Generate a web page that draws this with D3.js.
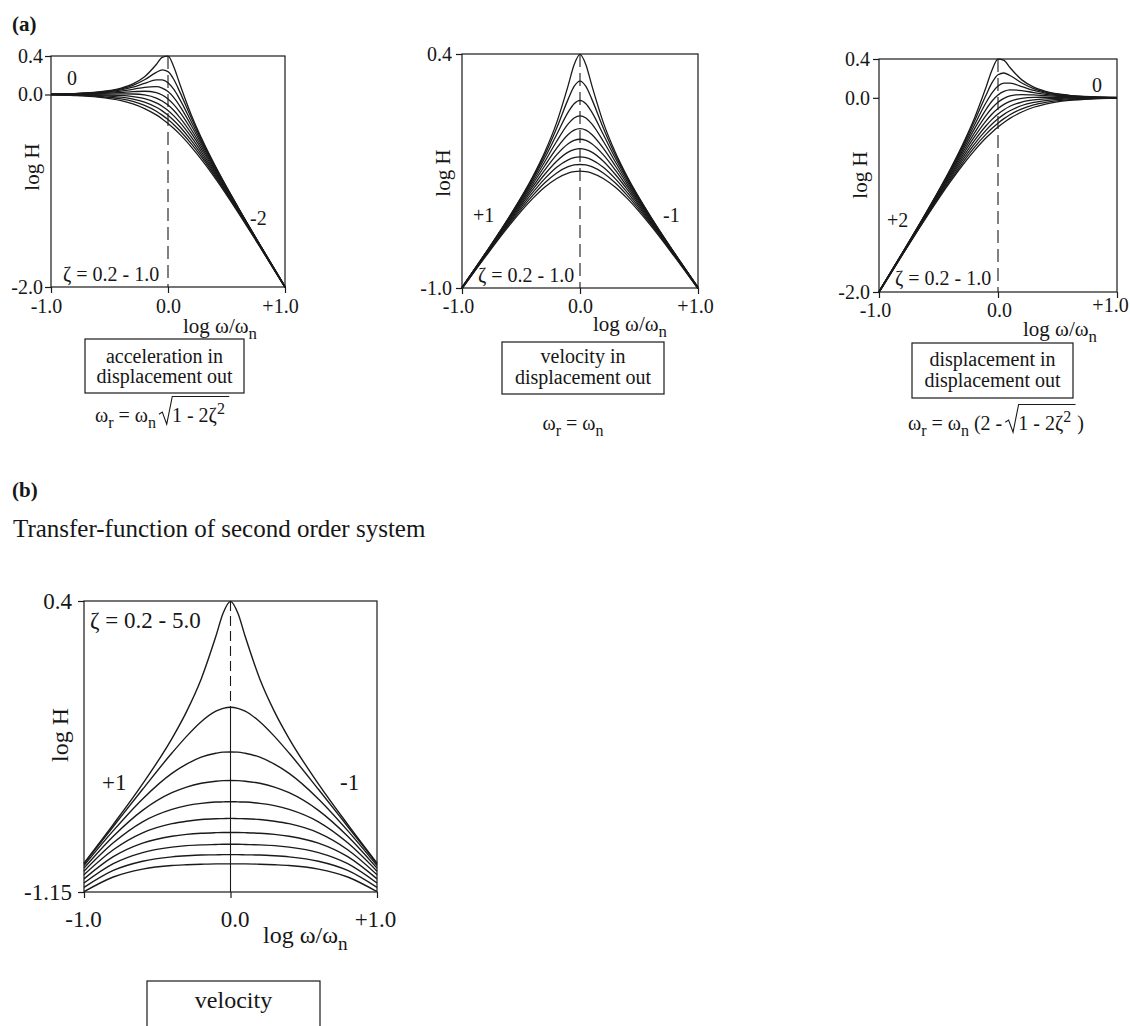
<!DOCTYPE html>
<html lang="en">
<head>
<meta charset="utf-8">
<title>Transfer-function of second order system</title>
<script type="text/javascript" src="https://cdn.jsdelivr.net/npm/d3@7/dist/d3.min.js"></script>
<style type="text/css">
    body { margin: 0; background: #fff; }
    text { font-family: "Liberation Serif", "Times New Roman", serif; fill: #161616; }
</style>
</head>
<body>
<script type="text/javascript">

var logFreq = [-1, -0.8, -0.6, -0.4, -0.3, -0.2, -0.1, -0.05, 0, 0.05, 0.1, 0.2, 0.3, 0.4, 0.6, 0.8, 1];
var xTicks = [-1, 0, 1];
var xTickLabels = ["-1.0", "0.0", "+1.0"];

// damping ratio of each curve, top curve first
var zetaA = [0.2, 0.29, 0.38, 0.47, 0.56, 0.64, 0.73, 0.82, 0.91, 1.0];
var zetaB = [0.2, 0.73, 1.27, 1.8, 2.33, 2.87, 3.4, 3.93, 4.47, 5.0];

// log H : acceleration in, displacement out
var accelIn = [
    [0.004, 0.010, 0.026, 0.067, 0.111, 0.185, 0.312, 0.386, 0.398, 0.286, 0.112, -0.215, -0.489, -0.733, -1.174, -1.590, -1.996],
    [0.004, 0.009, 0.023, 0.059, 0.095, 0.153, 0.230, 0.256, 0.238, 0.156, 0.030, -0.247, -0.505, -0.741, -1.177, -1.591, -1.996],
    [0.003, 0.008, 0.020, 0.049, 0.076, 0.115, 0.152, 0.152, 0.122, 0.052, -0.048, -0.285, -0.524, -0.751, -1.180, -1.592, -1.997],
    [0.002, 0.006, 0.015, 0.036, 0.054, 0.075, 0.082, 0.067, 0.030, -0.033, -0.118, -0.325, -0.546, -0.764, -1.185, -1.594, -1.998],
    [0.002, 0.004, 0.010, 0.022, 0.030, 0.034, 0.019, -0.005, -0.046, -0.105, -0.181, -0.366, -0.570, -0.778, -1.190, -1.596, -1.998],
    [0.001, 0.002, 0.004, 0.006, 0.005, -0.005, -0.037, -0.067, -0.110, -0.167, -0.237, -0.405, -0.595, -0.794, -1.196, -1.598, -1.999],
    [0.000, -0.001, -0.003, -0.010, -0.021, -0.043, -0.087, -0.122, -0.166, -0.222, -0.287, -0.443, -0.621, -0.810, -1.203, -1.601, -2.000],
    [-0.002, -0.004, -0.010, -0.028, -0.047, -0.079, -0.133, -0.170, -0.216, -0.270, -0.333, -0.479, -0.647, -0.828, -1.210, -1.604, -2.002],
    [-0.003, -0.007, -0.018, -0.046, -0.072, -0.113, -0.174, -0.214, -0.261, -0.314, -0.374, -0.513, -0.672, -0.846, -1.218, -1.607, -2.003],
    [-0.004, -0.011, -0.027, -0.064, -0.097, -0.146, -0.212, -0.254, -0.301, -0.354, -0.412, -0.546, -0.697, -0.864, -1.227, -1.611, -2.004]
];

// log H : velocity in, displacement out
var velocIn = [
    [-0.996, -0.790, -0.574, -0.333, -0.189, -0.015, 0.212, 0.336, 0.398, 0.336, 0.212, -0.015, -0.189, -0.333, -0.574, -0.790, -0.996],
    [-0.996, -0.791, -0.577, -0.341, -0.205, -0.047, 0.130, 0.206, 0.238, 0.206, 0.130, -0.047, -0.205, -0.341, -0.577, -0.791, -0.996],
    [-0.997, -0.792, -0.580, -0.351, -0.224, -0.085, 0.052, 0.102, 0.122, 0.102, 0.052, -0.085, -0.224, -0.351, -0.580, -0.792, -0.997],
    [-0.998, -0.794, -0.585, -0.364, -0.246, -0.125, -0.018, 0.017, 0.030, 0.017, -0.018, -0.125, -0.246, -0.364, -0.585, -0.794, -0.998],
    [-0.998, -0.796, -0.590, -0.378, -0.270, -0.166, -0.081, -0.055, -0.046, -0.055, -0.081, -0.166, -0.270, -0.378, -0.590, -0.796, -0.998],
    [-0.999, -0.798, -0.596, -0.394, -0.295, -0.205, -0.137, -0.117, -0.110, -0.117, -0.137, -0.205, -0.295, -0.394, -0.596, -0.798, -0.999],
    [-1.000, -0.801, -0.603, -0.410, -0.321, -0.243, -0.187, -0.172, -0.166, -0.172, -0.187, -0.243, -0.321, -0.410, -0.603, -0.801, -1.000],
    [-1.002, -0.804, -0.610, -0.428, -0.347, -0.279, -0.233, -0.220, -0.216, -0.220, -0.233, -0.279, -0.347, -0.428, -0.610, -0.804, -1.002],
    [-1.003, -0.807, -0.618, -0.446, -0.372, -0.313, -0.274, -0.264, -0.261, -0.264, -0.274, -0.313, -0.372, -0.446, -0.618, -0.807, -1.003],
    [-1.004, -0.811, -0.627, -0.464, -0.397, -0.346, -0.312, -0.304, -0.301, -0.304, -0.312, -0.346, -0.397, -0.464, -0.627, -0.811, -1.004]
];

// log H : displacement in, displacement out
var displIn = [
    [-1.996, -1.590, -1.174, -0.733, -0.489, -0.215, 0.112, 0.286, 0.398, 0.386, 0.312, 0.185, 0.111, 0.067, 0.026, 0.010, 0.004],
    [-1.996, -1.591, -1.177, -0.741, -0.505, -0.247, 0.030, 0.156, 0.238, 0.256, 0.230, 0.153, 0.095, 0.059, 0.023, 0.009, 0.004],
    [-1.997, -1.592, -1.180, -0.751, -0.524, -0.285, -0.048, 0.052, 0.122, 0.152, 0.152, 0.115, 0.076, 0.049, 0.020, 0.008, 0.003],
    [-1.998, -1.594, -1.185, -0.764, -0.546, -0.325, -0.118, -0.033, 0.030, 0.067, 0.082, 0.075, 0.054, 0.036, 0.015, 0.006, 0.002],
    [-1.998, -1.596, -1.190, -0.778, -0.570, -0.366, -0.181, -0.105, -0.046, -0.005, 0.019, 0.034, 0.030, 0.022, 0.010, 0.004, 0.002],
    [-1.999, -1.598, -1.196, -0.794, -0.595, -0.405, -0.237, -0.167, -0.110, -0.067, -0.037, -0.005, 0.005, 0.006, 0.004, 0.002, 0.001],
    [-2.000, -1.601, -1.203, -0.810, -0.621, -0.443, -0.287, -0.222, -0.166, -0.122, -0.087, -0.043, -0.021, -0.010, -0.003, -0.001, 0.000],
    [-2.002, -1.604, -1.210, -0.828, -0.647, -0.479, -0.333, -0.270, -0.216, -0.170, -0.133, -0.079, -0.047, -0.028, -0.010, -0.004, -0.002],
    [-2.003, -1.607, -1.218, -0.846, -0.672, -0.513, -0.374, -0.314, -0.261, -0.214, -0.174, -0.113, -0.072, -0.046, -0.018, -0.007, -0.003],
    [-2.004, -1.611, -1.227, -0.864, -0.697, -0.546, -0.412, -0.354, -0.301, -0.254, -0.212, -0.146, -0.097, -0.064, -0.027, -0.011, -0.004]
];

// log H : velocity, zeta 0.2 - 5.0  (part b)
var velocityB = [
    [-0.996, -0.790, -0.574, -0.333, -0.189, -0.015, 0.212, 0.336, 0.398, 0.336, 0.212, -0.015, -0.189, -0.333, -0.574, -0.790, -0.996],
    [-1.000, -0.801, -0.603, -0.410, -0.321, -0.243, -0.187, -0.172, -0.166, -0.172, -0.187, -0.243, -0.321, -0.410, -0.603, -0.801, -1.000],
    [-1.009, -0.823, -0.654, -0.518, -0.469, -0.432, -0.411, -0.405, -0.404, -0.405, -0.411, -0.432, -0.469, -0.518, -0.654, -0.823, -1.009],
    [-1.023, -0.853, -0.715, -0.621, -0.591, -0.571, -0.560, -0.557, -0.556, -0.557, -0.560, -0.571, -0.591, -0.621, -0.715, -0.853, -1.023],
    [-1.039, -0.888, -0.776, -0.710, -0.690, -0.678, -0.671, -0.670, -0.669, -0.670, -0.671, -0.678, -0.690, -0.710, -0.776, -0.888, -1.039],
    [-1.058, -0.925, -0.835, -0.786, -0.773, -0.764, -0.760, -0.759, -0.758, -0.759, -0.760, -0.764, -0.773, -0.786, -0.835, -0.925, -1.058],
    [-1.080, -0.962, -0.890, -0.853, -0.843, -0.837, -0.834, -0.833, -0.833, -0.833, -0.834, -0.837, -0.843, -0.853, -0.890, -0.962, -1.080],
    [-1.102, -0.999, -0.940, -0.911, -0.903, -0.899, -0.897, -0.896, -0.896, -0.896, -0.897, -0.899, -0.903, -0.911, -0.940, -0.999, -1.102],
    [-1.125, -1.035, -0.986, -0.963, -0.957, -0.953, -0.952, -0.951, -0.951, -0.951, -0.952, -0.953, -0.957, -0.963, -0.986, -1.035, -1.125],
    [-1.148, -1.070, -1.028, -1.009, -1.005, -1.002, -1.000, -1.000, -1.000, -1.000, -1.000, -1.002, -1.005, -1.009, -1.028, -1.070, -1.148]
];

var yTicksAcc = [0.4, 0.0, -2.0], yLabelsAcc = ["0.4", "0.0", "-2.0"];
var yTicksVel = [0.4, -1.0], yLabelsVel = ["0.4", "-1.0"];
var yTicksB = [0.4, -1.15], yLabelsB = ["0.4", "-1.15"];

var ink = "#1a1a1a";
var svg = d3.select("body").append("svg").attr("width", 1130).attr("height", 1026);

function zetaText(z) {
    return "\u03b6 = " + z[0].toFixed(1) + " - " + z[z.length - 1].toFixed(1);
}

// text made of pieces: 0 normal, 1 subscript, 2 superscript
function richText(g, x, y, parts, size, anchor) {
    var t = g.append("text").attr("x", x).attr("y", y)
        .attr("font-size", size).attr("text-anchor", anchor || "start");
    var shift = 0;
    parts.forEach(function(p) {
        var target = p[1] === 1 ? size * 0.3 : (p[1] === 2 ? -size * 0.42 : 0);
        t.append("tspan").attr("dy", target - shift)
            .attr("font-size", p[1] ? size * 0.8 : size).text(p[0]);
        shift = target;
    });
    return t;
}

function radical(g, x, y, w, size) {
    var s = size / 18;
    g.append("path")
        .attr("d", "M" + x + "," + (y - 7 * s) + " l" + 3 * s + "," + (-2 * s) + " l" + 4 * s + "," + 11 * s +
              " l" + 5 * s + "," + (-25 * s) + " h" + (w + 4))
        .attr("fill", "none").attr("stroke", ink).attr("stroke-width", 1.1);
}

function drawPanel(p) {
    var x = d3.scaleLinear().domain([-1, 1]).range([p.left, p.right]);
    var y = d3.scaleLinear().domain([p.yTicks[0], p.yTicks[p.yTicks.length - 1]]).range([p.top, p.bottom]);
    var g = svg.append("g");

    g.append("rect")
        .attr("x", p.left).attr("y", p.top)
        .attr("width", p.right - p.left).attr("height", p.bottom - p.top)
        .attr("fill", "none").attr("stroke", ink).attr("stroke-width", 1.2);

    var yAxis = g.append("g").attr("transform", "translate(" + p.left + ",0)")
        .call(d3.axisLeft(y).tickValues(p.yTicks).tickSize(6).tickPadding(p.yPad)
            .tickFormat(function(d, i) { return p.yLabels[i]; }));
    var xAxis = g.append("g").attr("transform", "translate(0," + p.bottom + ")")
        .call(d3.axisBottom(x).tickValues(xTicks).tickSize(6).tickPadding(p.xPad)
            .tickFormat(function(d, i) { return xTickLabels[i]; }));
    [yAxis, xAxis].forEach(function(a) {
        a.select(".domain").remove();
        a.attr("font-family", null).attr("font-size", p.tickFont);
        a.selectAll("line").attr("stroke", ink).attr("stroke-width", 1.2);
    });
    xAxis.selectAll("text").attr("dx", function(d, i) { return p.xShift[i]; });
    if (p.lastUp) {
        // the "+1.0" of this panel sits higher, next to the axis title
        xAxis.selectAll("text").filter(function(d, i) { return i === 2; })
            .attr("y", p.lastUp).attr("dy", "0");
    }

    // resonance line at log w/wn = 0
    var split = p.solidFrom === undefined ? p.yTicks[p.yTicks.length - 1] : p.solidFrom;
    g.append("line").attr("x1", x(0)).attr("x2", x(0))
        .attr("y1", y(p.yTicks[0])).attr("y2", y(split))
        .attr("stroke", ink).attr("stroke-width", 1.1).attr("stroke-dasharray", p.dash);
    if (p.solidFrom !== undefined) {
        g.append("line").attr("x1", x(0)).attr("x2", x(0))
            .attr("y1", y(split)).attr("y2", p.bottom)
            .attr("stroke", ink).attr("stroke-width", 1.1);
    }

    var line = d3.line()
        .x(function(d, i) { return x(logFreq[i]); })
        .y(function(d) { return y(d); })
        .curve(d3.curveMonotoneX);

    g.selectAll("path.curve")
        .data(p.curves)
        .enter()
        .append("path")
        .attr("class", "curve")
        .attr("d", line)
        .attr("fill", "none")
        .attr("stroke", ink)
        .attr("stroke-width", p.curveWidth);

    p.labels.forEach(function(l) {
        g.append("text").attr("x", l[1]).attr("y", l[2]).attr("font-size", p.labelFont).text(l[0]);
    });

    g.append("text")
        .attr("transform", "translate(" + p.yTitle[0] + "," + p.yTitle[1] + ") rotate(-90)")
        .attr("text-anchor", "middle").attr("dy", "0.35em")
        .attr("font-size", p.titleFont).text("log H");

    richText(g, p.xTitle[0], p.xTitle[1], [["log \u03c9/\u03c9", 0], ["n", 1]], p.titleFont);
}

// ---- part (a) ----
svg.append("text").attr("x", 12).attr("y", 31).attr("font-size", 21).attr("font-weight", "bold").text("(a)");

drawPanel({
    left: 51, right: 285, top: 56, bottom: 287,
    yTicks: yTicksAcc, yLabels: yLabelsAcc, curves: accelIn,
    tickFont: 20, labelFont: 20, titleFont: 21, curveWidth: 1.3,
    yPad: 2, xPad: 6, xShift: [-5, 0, -5],
    dash: "13,6",
    labels: [["0", 67, 85], ["-2", 250, 225], [zetaText(zetaA), 63, 281]],
    yTitle: [32, 167], xTitle: [183, 333]
});

drawPanel({
    left: 462, right: 698, top: 54, bottom: 288,
    yTicks: yTicksVel, yLabels: yLabelsVel, curves: velocIn,
    tickFont: 20, labelFont: 20, titleFont: 21, curveWidth: 1.3,
    yPad: 4, xPad: 5, xShift: [-4, 0, -3],
    dash: "13,6",
    labels: [["+1", 473, 222], ["-1", 663, 222], [zetaText(zetaA), 478, 282]],
    yTitle: [443, 173], xTitle: [593, 331]
});

drawPanel({
    left: 879, right: 1117, top: 59, bottom: 292,
    yTicks: yTicksAcc, yLabels: yLabelsAcc, curves: displIn,
    tickFont: 20, labelFont: 20, titleFont: 21, curveWidth: 1.3,
    yPad: 3, xPad: 5, xShift: [-4, 1, -7], lastUp: 20,
    dash: "13,6",
    labels: [["0", 1092, 92], ["+2", 887, 227], [zetaText(zetaA), 895, 285]],
    yTitle: [860, 175], xTitle: [1023, 336]
});

// boxes under the panels
function captionBox(x0, y0, x1, y1, lines, baselines, size) {
    svg.append("rect").attr("x", x0).attr("y", y0).attr("width", x1 - x0).attr("height", y1 - y0)
        .attr("fill", "none").attr("stroke", ink).attr("stroke-width", 1.2);
    lines.forEach(function(s, i) {
        svg.append("text").attr("x", (x0 + x1) / 2).attr("y", baselines[i])
            .attr("text-anchor", "middle").attr("font-size", size).text(s);
    });
}
captionBox(85, 339, 244, 393, ["acceleration in", "displacement out"], [363, 383], 20);
captionBox(502, 342, 664, 394, ["velocity in", "displacement out"], [363, 384], 20);
captionBox(912, 343, 1073, 398, ["displacement in", "displacement out"], [366, 387], 20);

// resonance frequency formulas
var eqs = svg.append("g");
var e1 = richText(eqs, 95, 422, [["\u03c9", 0], ["r", 1], [" = \u03c9", 0], ["n", 1]], 20);
var r1 = 95 + e1.node().getBBox().width + 3;
var e1b = richText(eqs, r1 + 13, 422, [["1 - 2\u03b6", 0], ["2", 2]], 20);
radical(eqs, r1, 422, e1b.node().getBBox().width, 20);

richText(eqs, 573, 430, [["\u03c9", 0], ["r", 1], [" = \u03c9", 0], ["n", 1]], 20, "middle");

var e3 = richText(eqs, 908, 430, [["\u03c9", 0], ["r", 1], [" = \u03c9", 0], ["n", 1], [" (2 -", 0]], 20);
var r3 = 908 + e3.node().getBBox().width + 3;
var e3b = richText(eqs, r3 + 13, 430, [["1 - 2\u03b6", 0], ["2", 2]], 20);
var w3 = e3b.node().getBBox().width;
radical(eqs, r3, 430, w3, 20);
eqs.append("text").attr("x", r3 + 13 + w3 + 6).attr("y", 430).attr("font-size", 20).text(")");

// ---- part (b) ----
svg.append("text").attr("x", 12).attr("y", 497).attr("font-size", 21).attr("font-weight", "bold").text("(b)");
svg.append("text").attr("x", 13).attr("y", 537).attr("font-size", 25).text("Transfer-function of second order system");

drawPanel({
    left: 84, right: 377, top: 601, bottom: 892,
    yTicks: yTicksB, yLabels: yLabelsB, curves: velocityB,
    tickFont: 23, labelFont: 23, titleFont: 24, curveWidth: 1.4,
    yPad: 6, xPad: 13, xShift: [-1, 4, -2],
    dash: "10,5", solidFrom: velocityB[1][8],
    labels: [["+1", 102, 790], ["-1", 340, 790], [zetaText(zetaB), 90, 628]],
    yTitle: [60, 735], xTitle: [263, 943]
});

captionBox(147, 981, 320, 1045, ["velocity"], [1008], 24);

</script>
</body>
</html>
